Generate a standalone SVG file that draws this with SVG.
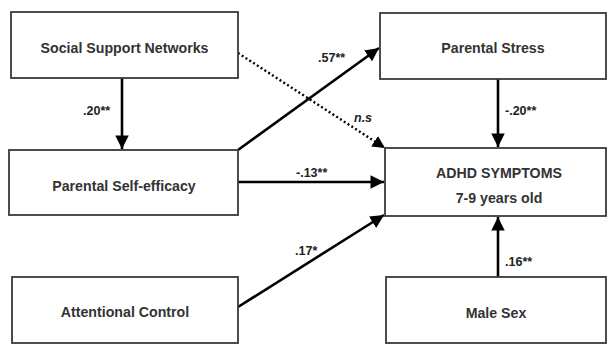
<svg xmlns="http://www.w3.org/2000/svg" width="608" height="344" viewBox="0 0 608 344">
<style>
.box{fill:#fff;stroke:#3a3a3a;stroke-width:1.8}
.lbl{font-family:"Liberation Sans",Arial,sans-serif;font-weight:bold;font-size:14.2px;fill:#333;text-anchor:middle}
.coef{font-family:"Liberation Sans",Arial,sans-serif;font-weight:bold;font-size:12.5px;fill:#222}
.ln{stroke:#000;stroke-width:2.6;fill:none}
.dot{stroke:#000;stroke-width:2.4;fill:none;stroke-dasharray:2 2.5}
</style>
<defs>
<marker id="ah" viewBox="0 0 10 10" refX="10" refY="5" markerWidth="5.2" markerHeight="5.2" markerUnits="strokeWidth" orient="auto">
<path d="M0,0 L10,5 L0,10 Z" fill="#000"/>
</marker>
</defs>
<rect width="608" height="344" fill="#fff"/>
<g id="connectors">
<line class="ln" x1="122" y1="78" x2="122" y2="149" marker-end="url(#ah)"/>
<line class="ln" x1="238" y1="150" x2="379" y2="48" marker-end="url(#ah)"/>
<line class="dot" x1="238" y1="53" x2="385" y2="148" marker-end="url(#ah)"/>
<line class="ln" x1="498" y1="79" x2="498" y2="147" marker-end="url(#ah)"/>
<line class="ln" x1="238" y1="182" x2="384" y2="182" marker-end="url(#ah)"/>
<line class="ln" x1="238" y1="307" x2="384" y2="215" marker-end="url(#ah)"/>
<line class="ln" x1="498" y1="277" x2="498" y2="217" marker-end="url(#ah)"/>
<text class="coef" x="83" y="115">.20**</text>
<text class="coef" x="318" y="62">.57**</text>
<text class="coef" x="354" y="122" font-style="italic" font-weight="normal">n.s</text>
<text class="coef" x="505" y="115">-.20**</text>
<text class="coef" x="296" y="177">-.13**</text>
<text class="coef" x="295" y="255">.17*</text>
<text class="coef" x="505" y="266">.16**</text>
</g>
<g id="ssn"><rect class="box" x="11" y="12" width="227" height="66"/><text class="lbl" x="124.5" y="53">Social Support Networks</text></g>
<g id="pse"><rect class="box" x="9" y="150" width="229" height="65"/><text class="lbl" x="124" y="191">Parental Self-efficacy</text></g>
<g id="ac"><rect class="box" x="12" y="277" width="226" height="66"/><text class="lbl" x="125" y="317">Attentional Control</text></g>
<g id="ps"><rect class="box" x="380" y="13" width="226" height="66"/><text class="lbl" x="493" y="53">Parental Stress</text></g>
<g id="adhd"><rect class="box" x="385" y="148" width="221" height="68"/><text class="lbl" x="499" y="178">ADHD SYMPTOMS</text><text class="lbl" x="499" y="203">7-9 years old</text></g>
<g id="male"><rect class="box" x="386" y="277" width="220" height="66"/><text class="lbl" x="496" y="318">Male Sex</text></g>
</svg>
